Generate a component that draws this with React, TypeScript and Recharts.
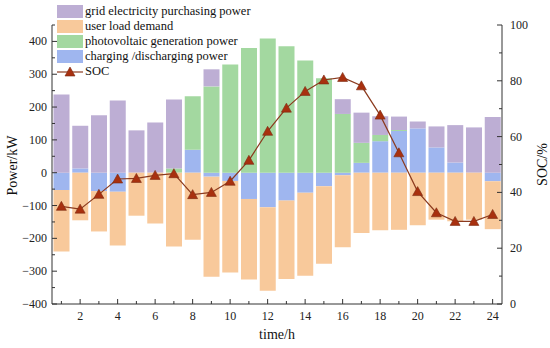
import { ComposedChart, Bar, Line, XAxis, YAxis } from "recharts";

const hours = [1, 2, 3, 4, 5, 6, 7, 8, 9, 10, 11, 12, 13, 14, 15, 16, 17, 18, 19, 20, 21, 22, 23, 24];
const gridPower = [238, 130, 175, 220, 129, 153, 210, 0, 52, 0, 0, 0, 0, 0, 0, 45, 92, 57, 41, 21, 64, 114, 138, 170];
const pvPower = [0, 0, 0, 0, 0, 0, 13, 163, 263, 330, 380, 409, 385, 342, 288, 179, 61, 19, 3, 0, 0, 0, 0, 0];
const batteryPower = [-53, 13, -56, -58, 0, 0, 0, 70, -12, -25, -80, -105, -85, -61, -41, -8, 30, 96, 127, 135, 77, 31, 0, -26];
const loadDemand = [-187, -145, -123, -164, -131, -155, -225, -204, -305, -279, -245, -255, -239, -253, -236, -219, -184, -175, -174, -160, -143, -148, -143, -146];
const soc = [35, 34, 39.3, 44.8, 45, 46.1, 46.7, 39.2, 40, 44, 51.5, 61.9, 70.2, 76.2, 80.3, 81.2, 78.2, 67.7, 54.2, 40.3, 32.7, 29.6, 29.6, 32.1];

const powerTicks = [-400, -350, -300, -250, -200, -150, -100, -50, 0, 50, 100, 150, 200, 250, 300, 350, 400, 450];
const socTicks = [0, 10, 20, 30, 40, 50, 60, 70, 80, 90, 100];

const COLORS = {
  grid: "#bdaed4",
  load: "#f8c99b",
  pv: "#a3d8a0",
  battery: "#9fb6ef",
  soc: "#8b3a1e",
  socFill: "#a8300f",
};

// serif face like the original figure
const FONT = "Liberation Serif, Tinos, DejaVu Serif, Times New Roman, Times, serif";
const AXIS = "#333";

const data = hours.map((h, i) => ({
  hour: h,
  battery: batteryPower[i],
  pv: pvPower[i],
  grid: gridPower[i],
  load: loadDemand[i],
  soc: soc[i],
}));

const fmt = (v: number) => (v < 0 ? "\u2212" + Math.abs(v) : String(v));

function LeftTick(props: any) {
  const { x, y, payload } = props;
  const major = payload.value % 100 === 0;
  return (
    <g>
      <line x1={x} x2={x + (major ? 5 : 3)} y1={y} y2={y} stroke={AXIS} />
      {major && (
        <text x={x - 5} y={y + 4} textAnchor="end" fontSize={12} style={{ fontFamily: FONT }} fill="#222">
          {fmt(payload.value)}
        </text>
      )}
    </g>
  );
}

function RightTick(props: any) {
  const { x, y, payload } = props;
  const major = payload.value % 20 === 0;
  return (
    <g>
      <line x1={x} x2={x - (major ? 5 : 3)} y1={y} y2={y} stroke={AXIS} />
      {major && (
        <text x={x + 8} y={y + 4} textAnchor="start" fontSize={12} style={{ fontFamily: FONT }} fill="#222">
          {payload.value}
        </text>
      )}
    </g>
  );
}

function BottomTick(props: any) {
  const { x, y, payload } = props;
  const major = payload.value % 2 === 0;
  return (
    <g>
      <line x1={x} x2={x} y1={y} y2={y - (major ? 5 : 3)} stroke={AXIS} />
      {major && (
        <text x={x} y={y + 16} textAnchor="middle" fontSize={12} style={{ fontFamily: FONT }} fill="#222">
          {payload.value}
        </text>
      )}
    </g>
  );
}

function Triangle({ cx, cy, s = 5 }: { cx: number; cy: number; s?: number }) {
  return (
    <polygon
      points={`${cx},${cy - s} ${cx - s},${cy + s * 0.8} ${cx + s},${cy + s * 0.8}`}
      fill={COLORS.socFill}
      stroke="#7a2a10"
      strokeWidth={0.6}
    />
  );
}

const legendItems = [
  { name: "grid electricity purchasing power", color: COLORS.grid },
  { name: "user load demand", color: COLORS.load },
  { name: "photovoltaic generation power", color: COLORS.pv },
  { name: "charging /discharging power", color: COLORS.battery },
];

function ChartLegend() {
  return (
    <div style={{ position: "absolute", left: 57, top: 4, fontFamily: FONT, fontSize: 12.5, color: "#111" }}>
      {legendItems.map((it) => (
        <div key={it.name} style={{ display: "flex", alignItems: "center", height: 15 }}>
          <div style={{ width: 26, height: 13, background: it.color, marginRight: 2 }} />
          <span style={{ lineHeight: "15px" }}>{it.name}</span>
        </div>
      ))}
      <div style={{ display: "flex", alignItems: "center", height: 15 }}>
        <svg width={26} height={15} style={{ marginRight: 2 }}>
          <line x1={0} x2={26} y1={8} y2={8} stroke={COLORS.soc} strokeWidth={1.2} />
          <Triangle cx={13} cy={8} />
        </svg>
        <span style={{ lineHeight: "15px" }}>SOC</span>
      </div>
    </div>
  );
}

export default function App() {
  return (
    <div style={{ position: "relative", width: 550, height: 348, background: "#fff", fontFamily: FONT }}>
      <style>{`body{margin:0}`}</style>
      <ComposedChart
        width={550}
        height={348}
        data={data}
        stackOffset="sign"
        barCategoryGap="8%"
        margin={{ top: 25, right: 0, bottom: 0, left: 0 }}
      >
        <XAxis
          dataKey="hour"
          interval={0}
          height={44}
          tickSize={0}
          tickMargin={0}
          tick={<BottomTick />}
          axisLine={{ stroke: AXIS }}
          label={{
            content: ({ viewBox }: any) => (
              <text x={viewBox.x + viewBox.width / 2} y={viewBox.y + 35} textAnchor="middle" fontSize={14} style={{ fontFamily: FONT }} fill="#111">
                time/h
              </text>
            ),
          }}
        />
        <YAxis
          yAxisId="left"
          width={52}
          domain={[-400, 450]}
          ticks={powerTicks}
          interval={0}
          allowDataOverflow
          tickSize={0}
          tickMargin={0}
          tick={<LeftTick />}
          axisLine={{ stroke: AXIS }}
          label={{
            content: ({ viewBox }: any) => {
              const cx = viewBox.x + 17;
              const cy = viewBox.y + viewBox.height / 2 + 1;
              return (
                <text x={cx} y={cy} transform={`rotate(-90 ${cx} ${cy})`} textAnchor="middle" fontSize={14} style={{ fontFamily: FONT }} fill="#111">
                  Power/kW
                </text>
              );
            },
          }}
        />
        <YAxis
          yAxisId="right"
          orientation="right"
          width={48}
          domain={[0, 100]}
          ticks={socTicks}
          interval={0}
          tickSize={0}
          tickMargin={0}
          tick={<RightTick />}
          axisLine={{ stroke: AXIS }}
          label={{
            content: ({ viewBox }: any) => {
              const cx = viewBox.x + 45;
              const cy = viewBox.y + viewBox.height / 2;
              return (
                <text x={cx} y={cy} transform={`rotate(-90 ${cx} ${cy})`} textAnchor="middle" fontSize={14} style={{ fontFamily: FONT }} fill="#111">
                  SOC/%
                </text>
              );
            },
          }}
        />
        <Bar yAxisId="left" dataKey="battery" stackId="p" fill={COLORS.battery} isAnimationActive={false} />
        <Bar yAxisId="left" dataKey="pv" stackId="p" fill={COLORS.pv} isAnimationActive={false} />
        <Bar yAxisId="left" dataKey="grid" stackId="p" fill={COLORS.grid} isAnimationActive={false} />
        <Bar yAxisId="left" dataKey="load" stackId="p" fill={COLORS.load} isAnimationActive={false} />
        <Line
          yAxisId="right"
          dataKey="soc"
          type="linear"
          stroke={COLORS.soc}
          strokeWidth={1.2}
          isAnimationActive={false}
          dot={(p: any) => <Triangle key={p.index} cx={p.cx} cy={p.cy} />}
        />
      </ComposedChart>
      <ChartLegend />
    </div>
  );
}
